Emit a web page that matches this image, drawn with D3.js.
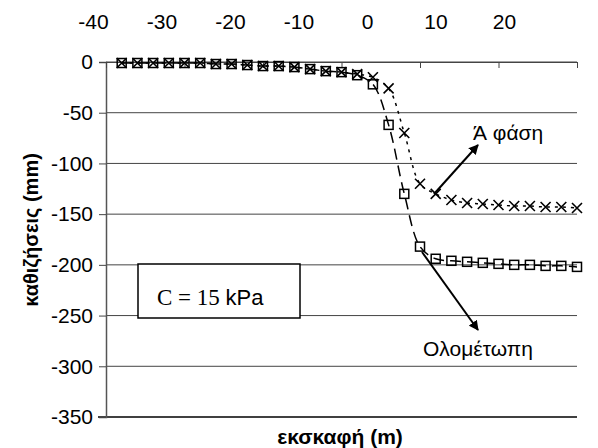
<!DOCTYPE html>
<html>
<head>
<meta charset="utf-8">
<script src="https://cdn.jsdelivr.net/npm/d3@7"></script>
<style>
  body { margin: 0; background: #fff; }
  text { font-family: "Liberation Sans", Arial, sans-serif; fill: #000; }
</style>
</head>
<body>
<div id="wrapper"></div>
<script>
// chart values
const excavation = [-38, -36, -34, -32, -30, -28, -26, -24, -22, -20, -18, -16, -14, -12, -10,
  -8, -6, -4, -2, 0, 2, 4, 6, 8, 10, 12, 14, 16, 18, 20]
// full face (squares, dashed)
const fullFace = [-1, -1, -1, -1, -1, -1, -2, -2, -3, -4, -4, -5, -7, -9, -10,
  -13, -22, -62, -130, -182, -194, -196, -197, -198, -199, -200, -200, -201, -201, -202]
// first phase (crosses, dotted)
const firstPhase = [-1, -1, -1, -1, -1, -1, -2, -2, -3, -4, -4, -5, -7, -9, -10,
  -12, -15, -26, -70, -120, -130, -136, -139, -140, -141, -142, -142, -143, -143, -144]

const xTicks = [-40, -30, -20, -10, 0, 10, 20]
const yTicks = [0, -50, -100, -150, -200, -250, -300, -350]

function drawChart() {

  // 1. Dimensions
  const dimensions = {
    width: 598,
    height: 448,
    left: 106,
    right: 577,
    top: 62,
    bottom: 417,
  }

  // 2. Canvas
  const svg = d3.select("#wrapper")
    .append("svg")
      .attr("width", dimensions.width)
      .attr("height", dimensions.height)

  const defs = svg.append("defs")
  defs.append("marker")
      .attr("id", "arrow")
      .attr("viewBox", "0 0 10 10")
      .attr("refX", 9)
      .attr("refY", 5)
      .attr("markerWidth", 5)
      .attr("markerHeight", 5)
      .attr("orient", "auto")
    .append("path")
      .attr("d", "M0,0 L10,5 L0,10 Z")
      .attr("fill", "#000")

  // 3. Scales
  const xScale = d3.scaleLinear()
    .domain([-40, 20])
    .range([dimensions.left, dimensions.right])

  // the tick labels in the picture sit a bit off their tick marks
  const xLabelScale = d3.scaleLinear()
    .domain([-40, 20])
    .range([93, 504])

  const yScale = d3.scaleLinear()
    .domain([0, -350])
    .range([dimensions.top, dimensions.bottom])

  const plainNumber = d => String(d)

  // 4. Grid and axes
  const grid = svg.append("g")
  grid.selectAll("line")
    .data(yTicks.filter(d => d != -350))
    .enter().append("line")
      .attr("x1", dimensions.left)
      .attr("x2", dimensions.right)
      .attr("y1", d => yScale(d))
      .attr("y2", d => yScale(d))
      .attr("stroke", "#444")
      .attr("stroke-width", 1)

  // bottom frame line
  svg.append("line")
    .attr("x1", dimensions.left - 8)
    .attr("x2", dimensions.right)
    .attr("y1", yScale(-350))
    .attr("y2", yScale(-350))
    .attr("stroke", "#000")
    .attr("stroke-width", 1.5)

  const yAxis = svg.append("g")
    .attr("transform", `translate(${dimensions.left},0)`)
    .call(d3.axisLeft(yScale).tickValues(yTicks).tickFormat(plainNumber).tickSize(7).tickPadding(6))
  yAxis.select(".domain").attr("stroke", "#555").attr("stroke-width", 1.5)
  yAxis.selectAll(".tick line").attr("stroke", "#444")
  yAxis.selectAll("text")
    .style("font-family", "'Liberation Sans', Arial, sans-serif")
    .style("font-size", "21px")

  const xAxis = svg.append("g")
    .attr("transform", `translate(0,${dimensions.top})`)
    .call(d3.axisBottom(xScale).tickValues(xTicks).tickSize(6).tickFormat("").tickSizeOuter(0))
  xAxis.select(".domain").attr("stroke", "#444")
  xAxis.selectAll(".tick line").attr("stroke", "#444")

  const xLabels = svg.append("g")
    .attr("transform", `translate(0,${dimensions.top - 33})`)
    .call(d3.axisTop(xLabelScale).tickValues(xTicks).tickFormat(plainNumber).tickSize(0).tickPadding(0))
  xLabels.select(".domain").remove()
  xLabels.selectAll("text")
    .attr("dy", "0")
    .attr("y", 0)
    .style("font-family", "'Liberation Sans', Arial, sans-serif")
    .style("font-size", "21px")

  // axis titles
  svg.append("text")
    .attr("x", 340)
    .attr("y", 444)
    .attr("text-anchor", "middle")
    .style("font-size", "21px")
    .style("font-weight", "bold")
    .text("εκσκαφή (m)")

  svg.append("text")
    .attr("transform", `translate(38,230) rotate(-90)`)
    .attr("text-anchor", "middle")
    .style("font-size", "20px")
    .style("font-weight", "bold")
    .text("καθιζήσεις (mm)")

  // 5. Data
  const fullData = excavation.map((x, i) => ({x, y: fullFace[i]}))
  const phaseData = excavation.map((x, i) => ({x, y: firstPhase[i]}))

  const lineGenerator = d3.line()
    .x(d => xScale(d.x))
    .y(d => yScale(d.y))
    .curve(d3.curveCatmullRom.alpha(0.5))

  svg.append("path")
    .attr("d", lineGenerator(fullData))
    .attr("fill", "none")
    .attr("stroke", "#000")
    .attr("stroke-width", 1.5)
    .attr("stroke-dasharray", "11 6")

  svg.append("path")
    .attr("d", lineGenerator(phaseData))
    .attr("fill", "none")
    .attr("stroke", "#000")
    .attr("stroke-width", 1.5)
    .attr("stroke-dasharray", "3 5")

  const squareSize = 9
  svg.selectAll(".square")
    .data(fullData)
    .enter().append("rect")
      .attr("class", "square")
      .attr("x", d => xScale(d.x) - squareSize / 2)
      .attr("y", d => yScale(d.y) - squareSize / 2)
      .attr("width", squareSize)
      .attr("height", squareSize)
      .attr("fill", "none")
      .attr("stroke", "#000")
      .attr("stroke-width", 1.5)

  const crossHalf = 5
  svg.selectAll(".cross")
    .data(phaseData)
    .enter().append("path")
      .attr("class", "cross")
      .attr("d", d => {
        const cx = xScale(d.x)
        const cy = yScale(d.y)
        return `M${cx - crossHalf},${cy - crossHalf}L${cx + crossHalf},${cy + crossHalf}` +
          `M${cx - crossHalf},${cy + crossHalf}L${cx + crossHalf},${cy - crossHalf}`
      })
      .attr("stroke", "#000")
      .attr("stroke-width", 1.6)

  // 6. Annotations
  svg.append("line")
    .attr("x1", 434).attr("y1", 194)
    .attr("x2", 478).attr("y2", 145)
    .attr("stroke", "#000")
    .attr("stroke-width", 2)
    .attr("marker-end", "url(#arrow)")

  svg.append("text")
    .attr("x", 473)
    .attr("y", 140)
    .style("font-size", "21px")
    .text("Ά φάση")

  svg.append("line")
    .attr("x1", 422).attr("y1", 252)
    .attr("x2", 478).attr("y2", 330)
    .attr("stroke", "#000")
    .attr("stroke-width", 2)
    .attr("marker-end", "url(#arrow)")

  svg.append("text")
    .attr("x", 423)
    .attr("y", 356)
    .style("font-size", "21px")
    .text("Ολομέτωπη")

  // parameter box
  svg.append("rect")
    .attr("x", 138)
    .attr("y", 264)
    .attr("width", 162)
    .attr("height", 54)
    .attr("fill", "#fff")
    .attr("stroke", "#000")
    .attr("stroke-width", 1.5)

  const boxText = svg.append("text")
    .attr("x", 157)
    .attr("y", 305)
    .style("font-size", "23px")
  boxText.append("tspan")
    .style("font-family", "'Liberation Serif', 'Times New Roman', serif")
    .text("C = 15 ")
  boxText.append("tspan")
    .style("font-size", "22px")
    .text("kPa")
}
drawChart()
</script>
</body>
</html>
